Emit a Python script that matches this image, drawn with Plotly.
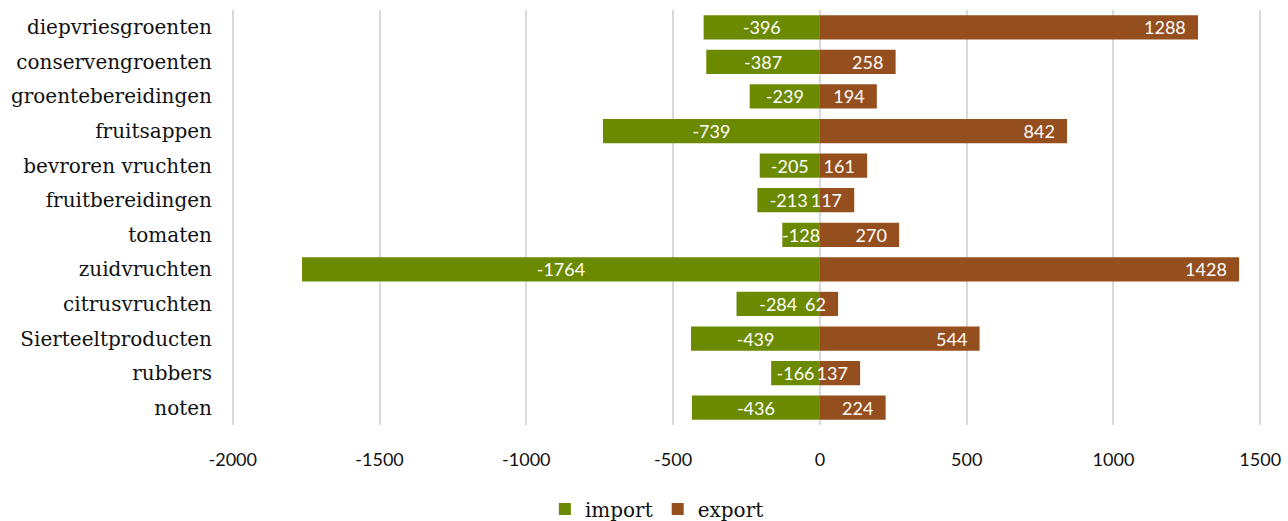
import plotly.graph_objects as go

categories = ["diepvriesgroenten", "conservengroenten", "groentebereidingen", "fruitsappen",
              "bevroren vruchten", "fruitbereidingen", "tomaten", "zuidvruchten",
              "citrusvruchten", "Sierteeltproducten", "rubbers", "noten"]
import_vals = [-396, -387, -239, -739, -205, -213, -128, -1764, -284, -439, -166, -436]
export_vals = [1288, 258, 194, 842, 161, 117, 270, 1428, 62, 544, 137, 224]
tick_vals = [-2000, -1500, -1000, -500, 0, 500, 1000, 1500]

IMP = "#6C8A00"
EXP = "#954E1D"

fig = go.Figure()
fig.add_trace(go.Bar(
    y=categories, x=import_vals, name="import", orientation="h",
    marker=dict(color=IMP, line=dict(width=0)),
    text=[str(v) for v in import_vals], textposition="inside", textangle=0,
    insidetextanchor="middle", constraintext="none",
    textfont=dict(color="white", size=18, family="Lato"),
))
fig.add_trace(go.Bar(
    y=categories, x=export_vals, name="export", orientation="h",
    marker=dict(color=EXP, line=dict(width=0)),
    text=[str(v) + "\u00a0\u00a0" for v in export_vals], textposition="inside", textangle=0,
    insidetextanchor="end", constraintext="none",
    textfont=dict(color="white", size=18, family="Lato"),
))

fig.update_layout(
    width=1288, height=521,
    margin=dict(l=231, r=26, t=10, b=96),
    barmode="relative", bargap=0.3,
    plot_bgcolor="white", paper_bgcolor="white",
    showlegend=True,
    legend=dict(orientation="h", xref="container", yref="container",
                x=0.51, xanchor="center", y=0.023, yanchor="middle",
                font=dict(family="DejaVu Serif", size=20, color="#111"),
                itemwidth=30, traceorder="normal"),
    xaxis=dict(range=[-2006, 1506], tickvals=tick_vals, ticktext=[str(v) for v in tick_vals],
               showgrid=True, gridcolor="#D9D9D9", gridwidth=1.5, zeroline=True,
               zerolinecolor="#D9D9D9", zerolinewidth=1.5,
               tickfont=dict(family="Lato", size=18, color="#111"),
               ticklabelstandoff=22, showline=False, automargin=False),
    yaxis=dict(autorange="reversed", categoryorder="array", categoryarray=categories,
               tickfont=dict(family="DejaVu Serif", size=20, color="#111"),
               ticklabelstandoff=18, showgrid=False, showline=False, automargin=False),
)

fig.write_html("out.html", config={"displayModeBar": False},
               post_script="document.body.style.margin='0';document.body.style.overflow='hidden';")
